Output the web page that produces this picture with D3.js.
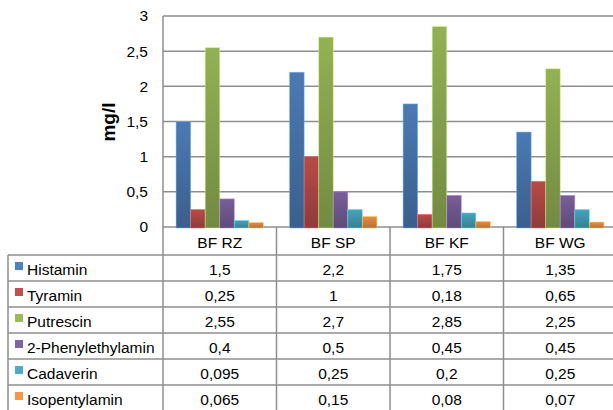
<!DOCTYPE html>
<html>
<head>
<meta charset="utf-8">
<script src="https://cdn.jsdelivr.net/npm/d3@7"></script>
<style>
  html, body { margin: 0; padding: 0; background: #fff; }
  svg { display: block; font-family: "Liberation Sans", Arial, sans-serif; }
</style>
</head>
<body>
<svg id="chart" width="613" height="410"></svg>
<script>
// Biogenic amines per sample (mg/l)
const categories = ["BF RZ", "BF SP", "BF KF", "BF WG"];
const seriesNames = ["Histamin", "Tyramin", "Putrescin", "2-Phenylethylamin", "Cadaverin", "Isopentylamin"];
const histamin = [1.5, 2.2, 1.75, 1.35];
const tyramin = [0.25, 1, 0.18, 0.65];
const putrescin = [2.55, 2.7, 2.85, 2.25];
const phenylethylamin = [0.4, 0.5, 0.45, 0.45];
const cadaverin = [0.095, 0.25, 0.2, 0.25];
const isopentylamin = [0.065, 0.15, 0.08, 0.07];
const yTicks = [0, 0.5, 1, 1.5, 2, 2.5, 3];
const colors = ["#4F81BD", "#C0504D", "#9BBB59", "#8064A2", "#4BACC6", "#F79646"];

const seriesValues = [histamin, tyramin, putrescin, phenylethylamin, cadaverin, isopentylamin];
const series = seriesNames.map((name, i) => ({ name, values: seriesValues[i], color: colors[i] }));

const fmt = v => String(v).replace(".", ",");

const svg = d3.select("#chart");
const plot = { left: 163, right: 617, top: 16, bottom: 227 };
const table = { left: 8, headerTop: 227, headerBottom: 255, rowH: 26 };
const gridColor = "#8e8e8e";
const fontSize = 15.5;

const x0 = d3.scaleBand().domain(categories).range([plot.left, plot.right]).paddingInner(0).paddingOuter(0);
const x1 = d3.scaleBand().domain(seriesNames).range([0, x0.bandwidth()]).paddingInner(0).paddingOuter(0.9);
const y = d3.scaleLinear().domain([0, 3]).range([plot.bottom, plot.top]);

// Gradients: lighter at top, darker at the base
const defs = svg.append("defs");
series.forEach((s, i) => {
  const g = defs.append("linearGradient").attr("id", "grad" + i)
    .attr("x1", 0).attr("y1", 0).attr("x2", 0).attr("y2", 1);
  const c = d3.color(s.color);
  g.append("stop").attr("offset", "0%").attr("stop-color", c.darker(0.15));
  g.append("stop").attr("offset", "100%").attr("stop-color", c.darker(0.85));
});

// Horizontal gridlines
svg.append("g").selectAll("line").data(yTicks).join("line")
  .attr("x1", plot.left).attr("x2", plot.right)
  .attr("y1", d => y(d)).attr("y2", d => y(d))
  .attr("stroke", gridColor).attr("stroke-width", 1.5);

// Y axis labels
const yAxis = d3.axisLeft(y).tickValues(yTicks).tickFormat(fmt).tickSize(0).tickPadding(15);
const yg = svg.append("g").attr("transform", `translate(${plot.left},0)`).call(yAxis);
yg.select(".domain").remove();
yg.selectAll("text").attr("font-size", fontSize).attr("fill", "#000")
  .attr("font-family", "'Liberation Sans', Arial, sans-serif");

// Y axis title
svg.append("text")
  .attr("transform", `translate(115,122) rotate(-90)`)
  .attr("text-anchor", "middle")
  .attr("font-size", 19).attr("font-weight", "bold")
  .text("mg/l");

// Bars
const groups = svg.append("g").selectAll("g").data(categories).join("g")
  .attr("transform", d => `translate(${x0(d)},0)`);
groups.selectAll("rect")
  .data((c, ci) => series.map((s, si) => ({ s, si, v: s.values[ci] })))
  .join("rect")
  .attr("x", d => x1(d.s.name))
  .attr("width", x1.bandwidth())
  .attr("y", d => y(d.v))
  .attr("height", d => y(0) - y(d.v) + 1)
  .attr("fill", d => `url(#grad${d.si})`)
  .attr("stroke", d => d3.color(d.s.color).brighter(0.9))
  .attr("stroke-opacity", 0.6)
  .attr("stroke-width", 0.8);

// Data table
const tbl = svg.append("g");
const rowTop = i => table.headerBottom + i * table.rowH;
const tableBottom = rowTop(series.length);

// vertical lines
tbl.selectAll("line.v").data(categories.map(c => x0(c)).concat([plot.right])).join("line")
  .attr("class", "v")
  .attr("x1", d => d).attr("x2", d => d)
  .attr("y1", (d, i) => i === 0 ? plot.top : table.headerTop)
  .attr("y2", tableBottom)
  .attr("stroke", gridColor).attr("stroke-width", 1.5);
tbl.append("line")
  .attr("x1", table.left).attr("x2", table.left)
  .attr("y1", table.headerBottom).attr("y2", tableBottom)
  .attr("stroke", gridColor).attr("stroke-width", 1.5);

// horizontal lines
tbl.selectAll("line.h").data(d3.range(series.length + 1)).join("line")
  .attr("class", "h")
  .attr("x1", table.left).attr("x2", plot.right)
  .attr("y1", d => rowTop(d)).attr("y2", d => rowTop(d))
  .attr("stroke", gridColor).attr("stroke-width", 1.5);

// header labels
tbl.selectAll("text.head").data(categories).join("text")
  .attr("class", "head")
  .attr("x", d => x0(d) + x0.bandwidth() / 2)
  .attr("y", table.headerTop + 21)
  .attr("text-anchor", "middle").attr("font-size", fontSize)
  .text(d => d);

// rows
const rows = tbl.selectAll("g.row").data(series).join("g")
  .attr("class", "row")
  .attr("transform", (d, i) => `translate(0,${rowTop(i)})`);
rows.append("rect")
  .attr("x", 15).attr("y", 7).attr("width", 8).attr("height", 8)
  .attr("fill", d => d.color);
rows.append("text")
  .attr("x", 27).attr("y", 19.5)
  .attr("font-size", fontSize)
  .text(d => d.name);
rows.selectAll("text.val").data(d => d.values.map((v, i) => ({ v, c: categories[i] }))).join("text")
  .attr("class", "val")
  .attr("x", d => x0(d.c) + x0.bandwidth() / 2)
  .attr("y", 20)
  .attr("text-anchor", "middle").attr("font-size", fontSize)
  .text(d => fmt(d.v));
</script>
</body>
</html>
